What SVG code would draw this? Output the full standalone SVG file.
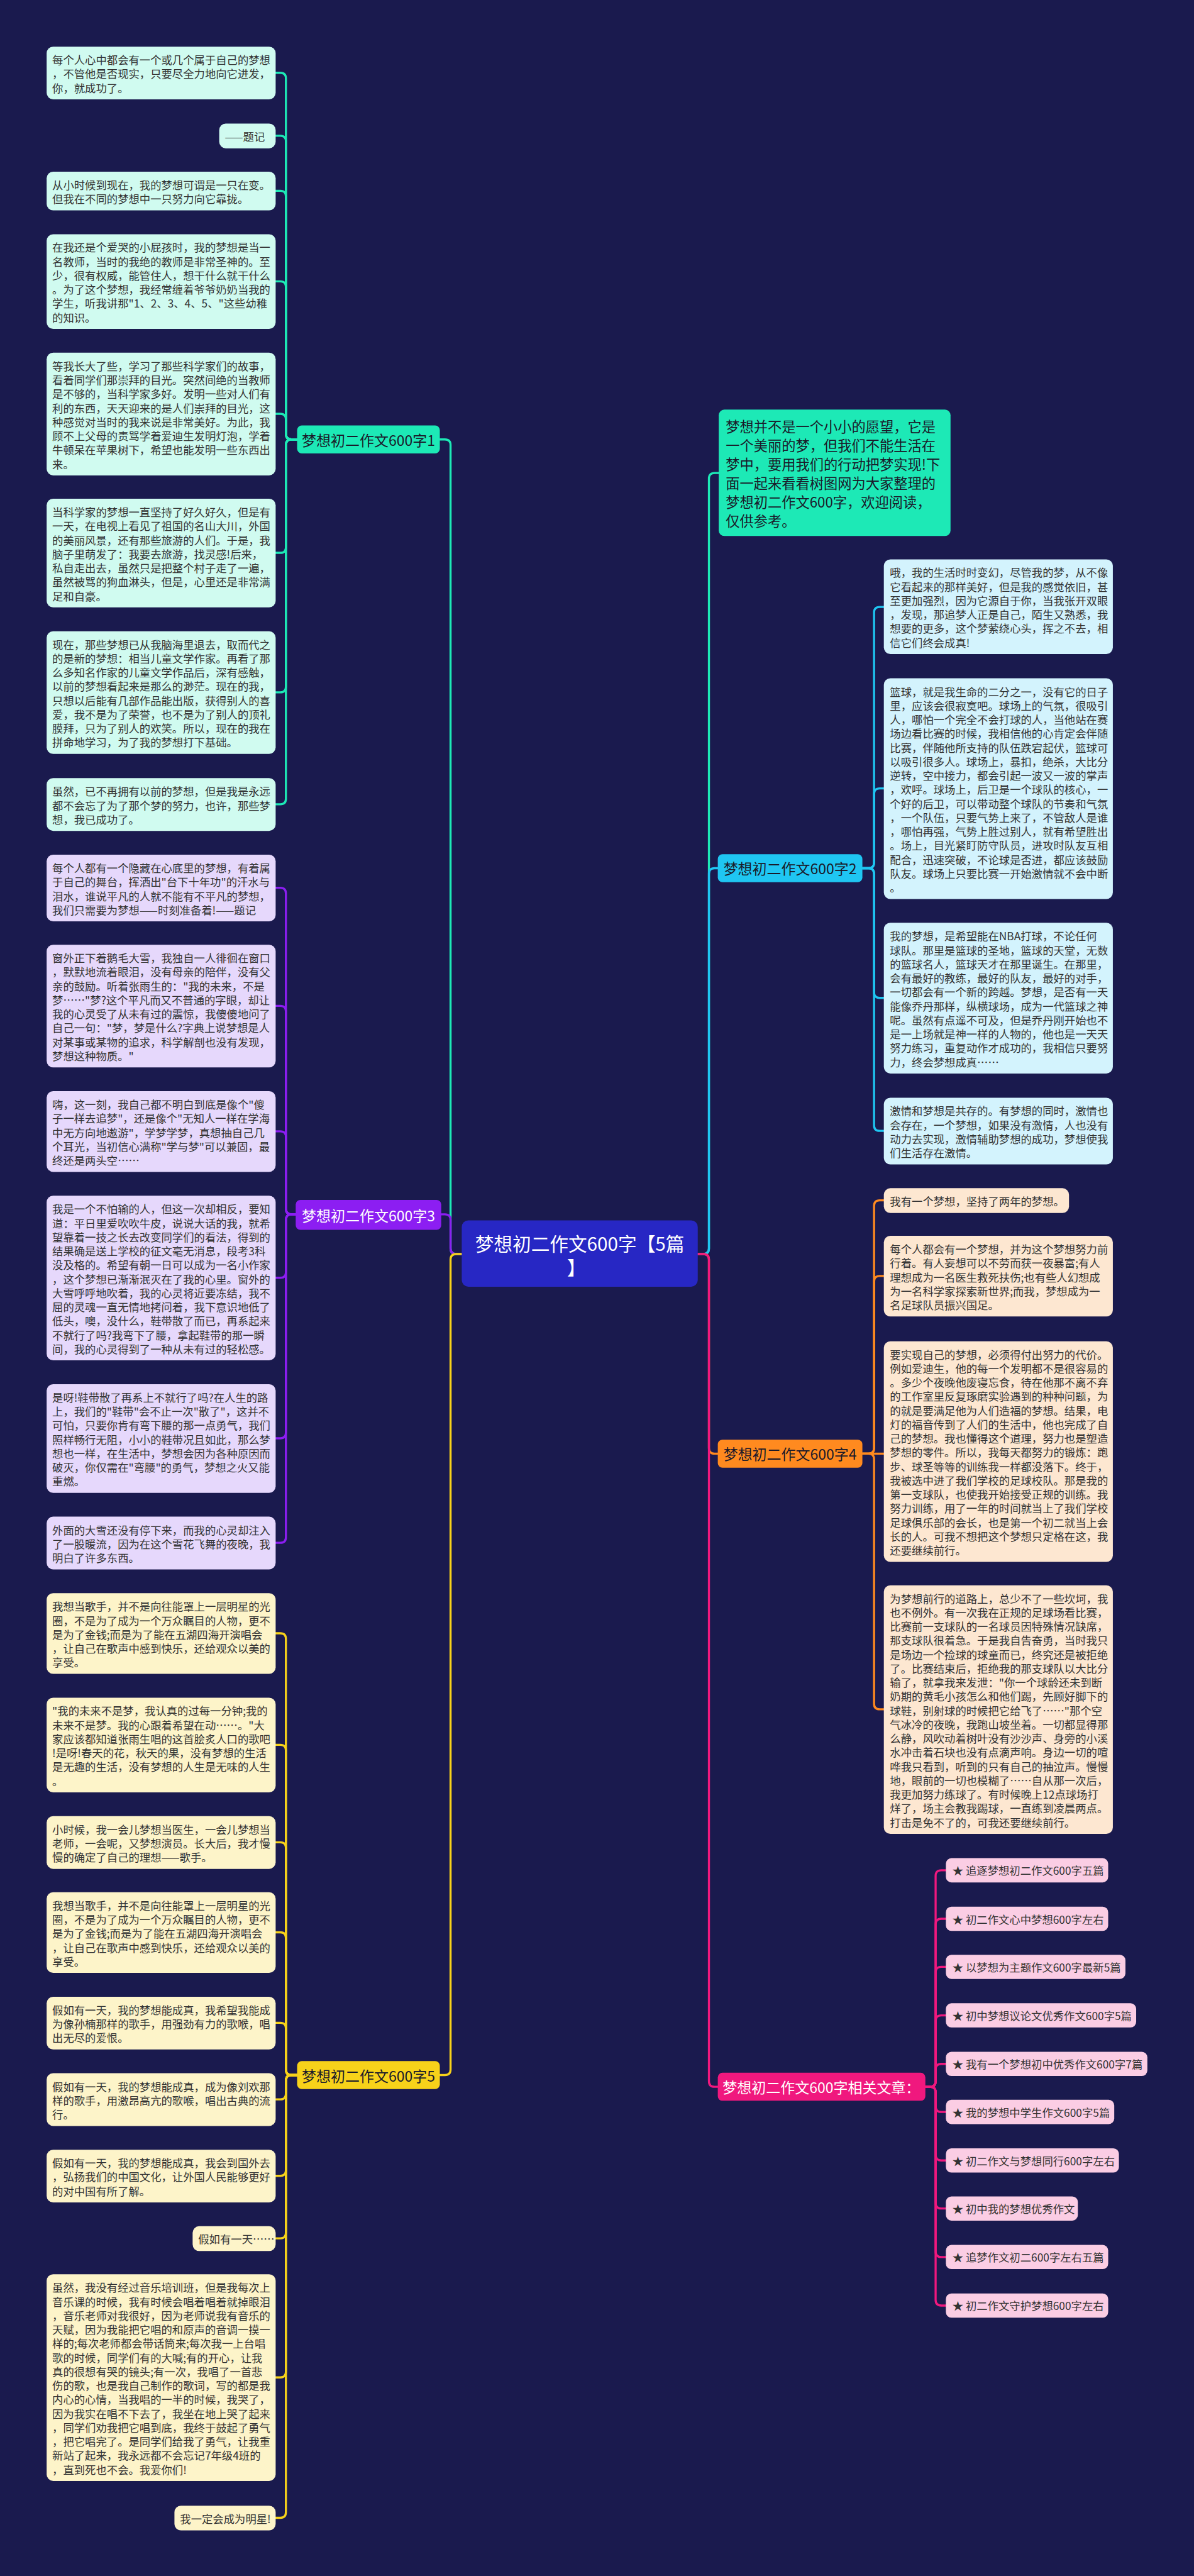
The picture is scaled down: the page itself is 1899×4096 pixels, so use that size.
<svg xmlns="http://www.w3.org/2000/svg" width="1899" height="4096" viewBox="0 0 1899 4096">
<style>
.t{font-family:"Noto Sans CJK SC","Noto Sans",sans-serif;font-size:23.4px;fill:#333;dominant-baseline:central}
.bt{font-family:"Noto Sans CJK SC","Noto Sans",sans-serif;font-size:31px;dominant-baseline:central;text-anchor:middle}
.ct{font-family:"Noto Sans CJK SC","Noto Sans",sans-serif;font-size:40px;fill:#fff;dominant-baseline:central;text-anchor:middle}
.it{font-family:"Noto Sans CJK SC","Noto Sans",sans-serif;font-size:30px;fill:#1a1a2a;dominant-baseline:central}
.c1{fill:#d0fbf0}.c3{fill:#e6d8fc}.c5{fill:#fdf4c9}.c2{fill:#d3f3fd}.c4{fill:#fde7d1}.c6{fill:#fbcde4}
.l{fill:none;stroke-width:4.5;stroke-linecap:round}
.k1{stroke:#1de9b6}.k3{stroke:#8c1ef2}.k5{stroke:#f7d21a}.k2{stroke:#1fc6f2}.k4{stroke:#ff8a1f}.k6{stroke:#f0187e}
</style>
<rect x="0" y="0" width="1899" height="4096" fill="#1a1a4e"/>
<g transform="scale(0.7418)">
<g id="connectors">
<!-- center to branches -->
<path class="l k1" d="M990 2688H978Q966 2688 966 2676V954Q966 942 954 942H943"/>
<path class="l k3" d="M990 2688H978Q966 2688 966 2676V2615Q966 2603 954 2603H946"/>
<path class="l k5" d="M990 2688H978Q966 2688 966 2700V4436Q966 4448 954 4448H943"/>
<path class="l k1" d="M1496 2688H1508Q1520 2688 1520 2676V1026Q1520 1014 1532 1014H1541"/>
<path class="l k2" d="M1496 2688H1508Q1520 2688 1520 2676V1873Q1520 1861 1532 1861H1539"/>
<path class="l k4" d="M1496 2688H1508Q1520 2688 1520 2700V3104Q1520 3116 1532 3116H1539"/>
<path class="l k6" d="M1496 2688H1508Q1520 2688 1520 2700V4461Q1520 4473 1532 4473H1539"/>
<!-- branch 1 children -->
<path class="l k1" d="M637 942H625Q613 942 613 930V168Q613 156 601 156H591"/>
<path class="l k1" d="M637 942H625Q613 942 613 930V303Q613 291 601 291H591"/>
<path class="l k1" d="M637 942H625Q613 942 613 930V421Q613 409 601 409H591"/>
<path class="l k1" d="M637 942H625Q613 942 613 930V615Q613 603 601 603H591"/>
<path class="l k1" d="M637 942H625Q613 942 613 930V899Q613 887 601 887H591"/>
<path class="l k1" d="M637 942H625Q613 942 613 954V1173Q613 1185 601 1185H591"/>
<path class="l k1" d="M637 942H625Q613 942 613 954V1472Q613 1484 601 1484H591"/>
<path class="l k1" d="M637 942H625Q613 942 613 954V1712Q613 1724 601 1724H591"/>
<!-- branch 3 children -->
<path class="l k3" d="M634 2603H625Q613 2603 613 2591V1915Q613 1903 601 1903H591"/>
<path class="l k3" d="M634 2603H625Q613 2603 613 2591V2168Q613 2156 601 2156H591"/>
<path class="l k3" d="M634 2603H625Q613 2603 613 2591V2437Q613 2425 601 2425H591"/>
<path class="l k3" d="M634 2603H625Q613 2603 613 2615V2727Q613 2739 601 2739H591"/>
<path class="l k3" d="M634 2603H625Q613 2603 613 2615V3071Q613 3083 601 3083H591"/>
<path class="l k3" d="M634 2603H625Q613 2603 613 2615V3295Q613 3307 601 3307H591"/>
<!-- branch 5 children -->
<path class="l k5" d="M637 4448H625Q613 4448 613 4436V3513Q613 3501 601 3501H591"/>
<path class="l k5" d="M637 4448H625Q613 4448 613 4436V3752Q613 3740 601 3740H591"/>
<path class="l k5" d="M637 4448H625Q613 4448 613 4436V3961Q613 3949 601 3949H591"/>
<path class="l k5" d="M637 4448H625Q613 4448 613 4436V4154Q613 4142 601 4142H591"/>
<path class="l k5" d="M637 4448H625Q613 4448 613 4436V4348Q613 4336 601 4336H591"/>
<path class="l k5" d="M637 4448H625Q613 4448 613 4460V4488Q613 4500 601 4500H591"/>
<path class="l k5" d="M637 4448H625Q613 4448 613 4460V4652Q613 4664 601 4664H591"/>
<path class="l k5" d="M637 4448H625Q613 4448 613 4460V4786Q613 4798 601 4798H591"/>
<path class="l k5" d="M637 4448H625Q613 4448 613 4460V5084Q613 5096 601 5096H591"/>
<path class="l k5" d="M637 4448H625Q613 4448 613 4460V5385Q613 5397 601 5397H591"/>
<!-- branch 2 children -->
<path class="l k2" d="M1849 1861H1862Q1874 1861 1874 1849V1313Q1874 1301 1886 1301H1895"/>
<path class="l k2" d="M1849 1861H1862Q1874 1861 1874 1849V1702Q1874 1690 1886 1690H1895"/>
<path class="l k2" d="M1849 1861H1862Q1874 1861 1874 1873V2127Q1874 2139 1886 2139H1895"/>
<path class="l k2" d="M1849 1861H1862Q1874 1861 1874 1873V2412Q1874 2424 1886 2424H1895"/>
<!-- branch 4 children -->
<path class="l k4" d="M1849 3116H1862Q1874 3116 1874 3104V2585Q1874 2573 1886 2573H1895"/>
<path class="l k4" d="M1849 3116H1862Q1874 3116 1874 3104V2747Q1874 2735 1886 2735H1895"/>
<path class="l k4" d="M1849 3116H1895"/>
<path class="l k4" d="M1849 3116H1862Q1874 3116 1874 3128V3652Q1874 3664 1886 3664H1895"/>
<!-- related children -->
<path class="l k6" d="M1984 4473H1994Q2006 4473 2006 4461V4021Q2006 4009 2018 4009H2028"/>
<path class="l k6" d="M1984 4473H1994Q2006 4473 2006 4461V4125Q2006 4113 2018 4113H2028"/>
<path class="l k6" d="M1984 4473H1994Q2006 4473 2006 4461V4228Q2006 4216 2018 4216H2028"/>
<path class="l k6" d="M1984 4473H1994Q2006 4473 2006 4461V4332Q2006 4320 2018 4320H2028"/>
<path class="l k6" d="M1984 4473H1994Q2006 4473 2006 4461V4436Q2006 4424 2018 4424H2028"/>
<path class="l k6" d="M1984 4473H1994Q2006 4473 2006 4485V4515Q2006 4527 2018 4527H2028"/>
<path class="l k6" d="M1984 4473H1994Q2006 4473 2006 4485V4619Q2006 4631 2018 4631H2028"/>
<path class="l k6" d="M1984 4473H1994Q2006 4473 2006 4485V4722Q2006 4734 2018 4734H2028"/>
<path class="l k6" d="M1984 4473H1994Q2006 4473 2006 4485V4826Q2006 4838 2018 4838H2028"/>
<path class="l k6" d="M1984 4473H1994Q2006 4473 2006 4485V4930Q2006 4942 2018 4942H2028"/>
</g>

<g id="center"><rect x="990" y="2616" width="506" height="142" rx="14" fill="#2727c4"/>
<text class="ct" x="1243" y="2664">梦想初二作文600字【5篇</text><text class="ct" x="1236" y="2716">】</text></g>

<g id="intro"><rect x="1541" y="878" width="497" height="271" rx="12" fill="#1de9b6"/>
<text class="it"><tspan x="1556" y="912">梦想并不是一个小小的愿望，它是</tspan><tspan x="1556" y="952.6">一个美丽的梦，但我们不能生活在</tspan><tspan x="1556" y="993.2">梦中，要用我们的行动把梦实现!下</tspan><tspan x="1556" y="1033.8">面一起来看看树图网为大家整理的</tspan><tspan x="1556" y="1074.4">梦想初二作文600字，欢迎阅读，</tspan><tspan x="1556" y="1115">仅供参考。</tspan></text></g>

<g id="branch1"><rect x="637" y="912" width="306" height="60" rx="10" fill="#1de9b6"/><text class="bt" x="790" y="942" fill="#1a1a2a">梦想初二作文600字1</text></g>
<g id="branch3"><rect x="634" y="2572" width="312" height="64" rx="10" fill="#8c1ef2"/><text class="bt" x="790" y="2604" fill="#fff">梦想初二作文600字3</text></g>
<g id="branch5"><rect x="637" y="4418" width="306" height="60" rx="10" fill="#f7d21a"/><text class="bt" x="790" y="4448" fill="#1a1a2a">梦想初二作文600字5</text></g>
<g id="branch2"><rect x="1539" y="1831" width="310" height="60" rx="10" fill="#1fc6f2"/><text class="bt" x="1694" y="1861" fill="#1a1a2a">梦想初二作文600字2</text></g>
<g id="branch4"><rect x="1539" y="3086" width="310" height="60" rx="10" fill="#ff8a1f"/><text class="bt" x="1694" y="3116" fill="#1a1a2a">梦想初二作文600字4</text></g>
<g id="branch6"><rect x="1539" y="4443" width="445" height="60" rx="10" fill="#f0187e"/><text class="bt" x="1761" y="4473" fill="#fff">梦想初二作文600字相关文章：</text></g>

<!-- branch 1 children -->
<g id="a1"><rect class="c1" x="100" y="100" width="491" height="113" rx="14"/><text class="t"><tspan x="112" y="127">每个人心中都会有一个或几个属于自己的梦想</tspan><tspan x="112" dy="30">，不管他是否现实，只要尽全力地向它进发，</tspan><tspan x="112" dy="30">你，就成功了。</tspan></text></g>
<g id="a2"><rect class="c1" x="470" y="265" width="121" height="53" rx="14"/><text class="t" x="482" y="292">——题记</text></g>
<g id="a3"><rect class="c1" x="100" y="368" width="491" height="83" rx="14"/><text class="t"><tspan x="112" y="395">从小时候到现在，我的梦想可谓是一只在变。</tspan><tspan x="112" dy="30">但我在不同的梦想中一只努力向它靠拢。</tspan></text></g>
<g id="a4"><rect class="c1" x="100" y="502" width="491" height="203" rx="14"/><text class="t"><tspan x="112" y="529">在我还是个爱哭的小屁孩时，我的梦想是当一</tspan><tspan x="112" dy="30">名教师，当时的我绝的教师是非常圣神的。至</tspan><tspan x="112" dy="30">少，很有权威，能管住人，想干什么就干什么</tspan><tspan x="112" dy="30">。为了这个梦想，我经常缠着爷爷奶奶当我的</tspan><tspan x="112" dy="30">学生，听我讲那"1、2、3、4、5、"这些幼稚</tspan><tspan x="112" dy="30">的知识。</tspan></text></g>
<g id="a5"><rect class="c1" x="100" y="756" width="491" height="263" rx="14"/><text class="t"><tspan x="112" y="783">等我长大了些，学习了那些科学家们的故事，</tspan><tspan x="112" dy="30">看着同学们那崇拜的目光。突然间绝的当教师</tspan><tspan x="112" dy="30">是不够的，当科学家多好。发明一些对人们有</tspan><tspan x="112" dy="30">利的东西，天天迎来的是人们崇拜的目光，这</tspan><tspan x="112" dy="30">种感觉对当时的我来说是非常美好。为此，我</tspan><tspan x="112" dy="30">顾不上父母的责骂学着爱迪生发明灯泡，学着</tspan><tspan x="112" dy="30">牛顿呆在苹果树下，希望也能发明一些东西出</tspan><tspan x="112" dy="30">来。</tspan></text></g>
<g id="a6"><rect class="c1" x="100" y="1069" width="491" height="233" rx="14"/><text class="t"><tspan x="112" y="1096">当科学家的梦想一直坚持了好久好久，但是有</tspan><tspan x="112" dy="30">一天，在电视上看见了祖国的名山大川，外国</tspan><tspan x="112" dy="30">的美丽风景，还有那些旅游的人们。于是，我</tspan><tspan x="112" dy="30">脑子里萌发了：我要去旅游，找灵感!后来，</tspan><tspan x="112" dy="30">私自走出去，虽然只是把整个村子走了一遍，</tspan><tspan x="112" dy="30">虽然被骂的狗血淋头，但是，心里还是非常满</tspan><tspan x="112" dy="30">足和自豪。</tspan></text></g>
<g id="a7"><rect class="c1" x="100" y="1353" width="491" height="263" rx="14"/><text class="t"><tspan x="112" y="1380">现在，那些梦想已从我脑海里退去，取而代之</tspan><tspan x="112" dy="30">的是新的梦想：相当儿童文学作家。再看了那</tspan><tspan x="112" dy="30">么多知名作家的儿童文学作品后，深有感触，</tspan><tspan x="112" dy="30">以前的梦想看起来是那么的渺茫。现在的我，</tspan><tspan x="112" dy="30">只想以后能有几部作品能出版，获得别人的喜</tspan><tspan x="112" dy="30">爱，我不是为了荣誉，也不是为了别人的顶礼</tspan><tspan x="112" dy="30">膜拜，只为了别人的欢笑。所以，现在的我在</tspan><tspan x="112" dy="30">拼命地学习，为了我的梦想打下基础。</tspan></text></g>
<g id="a8"><rect class="c1" x="100" y="1668" width="491" height="113" rx="14"/><text class="t"><tspan x="112" y="1695">虽然，已不再拥有以前的梦想，但是我是永远</tspan><tspan x="112" dy="30">都不会忘了为了那个梦的努力，也许，那些梦</tspan><tspan x="112" dy="30">想，我已成功了。</tspan></text></g>

<!-- branch 3 children -->
<g id="c1"><rect class="c3" x="100" y="1832" width="491" height="143" rx="14"/><text class="t"><tspan x="112" y="1859">每个人都有一个隐藏在心底里的梦想，有着属</tspan><tspan x="112" dy="30">于自己的舞台，挥洒出"台下十年功"的汗水与</tspan><tspan x="112" dy="30">泪水，谁说平凡的人就不能有不平凡的梦想，</tspan><tspan x="112" dy="30">我们只需要为梦想——时刻准备着!——题记</tspan></text></g>
<g id="c2"><rect class="c3" x="100" y="2025" width="491" height="263" rx="14"/><text class="t"><tspan x="112" y="2052">窗外正下着鹅毛大雪，我独自一人徘徊在窗口</tspan><tspan x="112" dy="30">，默默地流着眼泪，没有母亲的陪伴，没有父</tspan><tspan x="112" dy="30">亲的鼓励。听着张雨生的："我的未来，不是</tspan><tspan x="112" dy="30">梦……"梦?这个平凡而又不普通的字眼，却让</tspan><tspan x="112" dy="30">我的心灵受了从未有过的震惊，我傻傻地问了</tspan><tspan x="112" dy="30">自己一句："梦，梦是什么?字典上说梦想是人</tspan><tspan x="112" dy="30">对某事或某物的追求，科学解剖也没有发现，</tspan><tspan x="112" dy="30">梦想这种物质。"</tspan></text></g>
<g id="c3"><rect class="c3" x="100" y="2339" width="491" height="173" rx="14"/><text class="t"><tspan x="112" y="2366">嗨，这一刻，我自己都不明白到底是像个"傻</tspan><tspan x="112" dy="30">子一样去追梦"，还是像个"无知人一样在学海</tspan><tspan x="112" dy="30">中无方向地遨游"，学梦学梦，真想抽自己几</tspan><tspan x="112" dy="30">个耳光，当初信心满称"学与梦"可以兼固，最</tspan><tspan x="112" dy="30">终还是两头空……</tspan></text></g>
<g id="c4"><rect class="c3" x="100" y="2563" width="491" height="353" rx="14"/><text class="t"><tspan x="112" y="2590">我是一个不怕输的人，但这一次却相反，要知</tspan><tspan x="112" dy="30">道：平日里爱吹吹牛皮，说说大话的我，就希</tspan><tspan x="112" dy="30">望靠着一技之长去改变同学们的看法，得到的</tspan><tspan x="112" dy="30">结果确是送上学校的征文毫无消息，段考3科</tspan><tspan x="112" dy="30">没及格的。希望有朝一日可以成为一名小作家</tspan><tspan x="112" dy="30">，这个梦想已渐渐泯灭在了我的心里。窗外的</tspan><tspan x="112" dy="30">大雪呼呼地吹着，我的心灵将近要冻结，我不</tspan><tspan x="112" dy="30">屈的灵魂一直无情地拷问着，我下意识地低了</tspan><tspan x="112" dy="30">低头，噢，没什么，鞋带散了而已，再系起来</tspan><tspan x="112" dy="30">不就行了吗?我弯下了腰，拿起鞋带的那一瞬</tspan><tspan x="112" dy="30">间，我的心灵得到了一种从未有过的轻松感。</tspan></text></g>
<g id="c5"><rect class="c3" x="100" y="2967" width="491" height="233" rx="14"/><text class="t"><tspan x="112" y="2994">是呀!鞋带散了再系上不就行了吗?在人生的路</tspan><tspan x="112" dy="30">上，我们的"鞋带"会不止一次"散了"，这并不</tspan><tspan x="112" dy="30">可怕，只要你肯有弯下腰的那一点勇气，我们</tspan><tspan x="112" dy="30">照样畅行无阻，小小的鞋带况且如此，那么梦</tspan><tspan x="112" dy="30">想也一样，在生活中，梦想会因为各种原因而</tspan><tspan x="112" dy="30">破灭，你仅需在"弯腰"的勇气，梦想之火又能</tspan><tspan x="112" dy="30">重燃。</tspan></text></g>
<g id="c6"><rect class="c3" x="100" y="3251" width="491" height="113" rx="14"/><text class="t"><tspan x="112" y="3278">外面的大雪还没有停下来，而我的心灵却注入</tspan><tspan x="112" dy="30">了一股暖流，因为在这个雪花飞舞的夜晚，我</tspan><tspan x="112" dy="30">明白了许多东西。</tspan></text></g>

<!-- branch 5 children -->
<g id="e1"><rect class="c5" x="100" y="3415" width="491" height="173" rx="14"/><text class="t"><tspan x="112" y="3442">我想当歌手，并不是向往能罩上一层明星的光</tspan><tspan x="112" dy="30">圈，不是为了成为一个万众瞩目的人物，更不</tspan><tspan x="112" dy="30">是为了金钱;而是为了能在五湖四海开演唱会</tspan><tspan x="112" dy="30">，让自己在歌声中感到快乐，还给观众以美的</tspan><tspan x="112" dy="30">享受。</tspan></text></g>
<g id="e2"><rect class="c5" x="100" y="3639" width="491" height="203" rx="14"/><text class="t"><tspan x="112" y="3666">"我的未来不是梦，我认真的过每一分钟;我的</tspan><tspan x="112" dy="30">未来不是梦。我的心跟着希望在动……。"大</tspan><tspan x="112" dy="30">家应该都知道张雨生唱的这首脍炙人口的歌吧</tspan><tspan x="112" dy="30">!是呀!春天的花，秋天的果，没有梦想的生活</tspan><tspan x="112" dy="30">是无趣的生活，没有梦想的人生是无味的人生</tspan><tspan x="112" dy="30">。</tspan></text></g>
<g id="e3"><rect class="c5" x="100" y="3893" width="491" height="113" rx="14"/><text class="t"><tspan x="112" y="3920">小时候，我一会儿梦想当医生，一会儿梦想当</tspan><tspan x="112" dy="30">老师，一会呢，又梦想演员。长大后，我才慢</tspan><tspan x="112" dy="30">慢的确定了自己的理想——歌手。</tspan></text></g>
<g id="e4"><rect class="c5" x="100" y="4056" width="491" height="173" rx="14"/><text class="t"><tspan x="112" y="4083">我想当歌手，并不是向往能罩上一层明星的光</tspan><tspan x="112" dy="30">圈，不是为了成为一个万众瞩目的人物，更不</tspan><tspan x="112" dy="30">是为了金钱;而是为了能在五湖四海开演唱会</tspan><tspan x="112" dy="30">，让自己在歌声中感到快乐，还给观众以美的</tspan><tspan x="112" dy="30">享受。</tspan></text></g>
<g id="e5"><rect class="c5" x="100" y="4280" width="491" height="113" rx="14"/><text class="t"><tspan x="112" y="4307">假如有一天，我的梦想能成真，我希望我能成</tspan><tspan x="112" dy="30">为像孙楠那样的歌手，用强劲有力的歌喉，唱</tspan><tspan x="112" dy="30">出无尽的爱恨。</tspan></text></g>
<g id="e6"><rect class="c5" x="100" y="4444" width="491" height="113" rx="14"/><text class="t"><tspan x="112" y="4471">假如有一天，我的梦想能成真，成为像刘欢那</tspan><tspan x="112" dy="30">样的歌手，用激昂高亢的歌喉，唱出古典的流</tspan><tspan x="112" dy="30">行。</tspan></text></g>
<g id="e7"><rect class="c5" x="100" y="4608" width="491" height="113" rx="14"/><text class="t"><tspan x="112" y="4635">假如有一天，我的梦想能成真，我会到国外去</tspan><tspan x="112" dy="30">，弘扬我们的中国文化，让外国人民能够更好</tspan><tspan x="112" dy="30">的对中国有所了解。</tspan></text></g>
<g id="e8"><rect class="c5" x="413" y="4772" width="178" height="53" rx="14"/><text class="t" x="425" y="4799">假如有一天……</text></g>
<g id="e9"><rect class="c5" x="100" y="4875" width="491" height="443" rx="14"/><text class="t"><tspan x="112" y="4902">虽然，我没有经过音乐培训班，但是我每次上</tspan><tspan x="112" dy="30">音乐课的时候，我有时候会唱着唱着就掉眼泪</tspan><tspan x="112" dy="30">，音乐老师对我很好，因为老师说我有音乐的</tspan><tspan x="112" dy="30">天赋，因为我能把它唱的和原声的音调一摸一</tspan><tspan x="112" dy="30">样的;每次老师都会带话筒来;每次我一上台唱</tspan><tspan x="112" dy="30">歌的时候，同学们有的大喊;有的开心，让我</tspan><tspan x="112" dy="30">真的很想有哭的镜头;有一次，我唱了一首悲</tspan><tspan x="112" dy="30">伤的歌，也是我自己制作的歌词，写的都是我</tspan><tspan x="112" dy="30">内心的心情，当我唱的一半的时候，我哭了，</tspan><tspan x="112" dy="30">因为我实在唱不下去了，我坐在地上哭了起来</tspan><tspan x="112" dy="30">，同学们劝我把它唱到底，我终于鼓起了勇气</tspan><tspan x="112" dy="30">，把它唱完了。是同学们给我了勇气，让我重</tspan><tspan x="112" dy="30">新站了起来，我永远都不会忘记7年级4班的</tspan><tspan x="112" dy="30">，直到死也不会。我爱你们!</tspan></text></g>
<g id="e10"><rect class="c5" x="374" y="5371" width="217" height="53" rx="14"/><text class="t" x="386" y="5398">我一定会成为明星!</text></g>

<!-- branch 2 children -->
<g id="b1"><rect class="c2" x="1895" y="1199" width="491" height="203" rx="14"/><text class="t"><tspan x="1908" y="1226">哦，我的生活时时变幻，尽管我的梦，从不像</tspan><tspan x="1908" dy="30">它看起来的那样美好，但是我的感觉依旧，甚</tspan><tspan x="1908" dy="30">至更加强烈，因为它源自于你，当我张开双眼</tspan><tspan x="1908" dy="30">，发现，那追梦人正是自己，陌生又熟悉，我</tspan><tspan x="1908" dy="30">想要的更多，这个梦萦绕心头，挥之不去，相</tspan><tspan x="1908" dy="30">信它们终会成真!</tspan></text></g>
<g id="b2"><rect class="c2" x="1895" y="1454" width="491" height="473" rx="14"/><text class="t"><tspan x="1908" y="1481">篮球，就是我生命的二分之一，没有它的日子</tspan><tspan x="1908" dy="30">里，应该会很寂寞吧。球场上的气氛，很吸引</tspan><tspan x="1908" dy="30">人，哪怕一个完全不会打球的人，当他站在赛</tspan><tspan x="1908" dy="30">场边看比赛的时候，我相信他的心肯定会伴随</tspan><tspan x="1908" dy="30">比赛，伴随他所支持的队伍跌宕起伏，篮球可</tspan><tspan x="1908" dy="30">以吸引很多人。球场上，暴扣，绝杀，大比分</tspan><tspan x="1908" dy="30">逆转，空中接力，都会引起一波又一波的掌声</tspan><tspan x="1908" dy="30">，欢呼。球场上，后卫是一个球队的核心，一</tspan><tspan x="1908" dy="30">个好的后卫，可以带动整个球队的节奏和气氛</tspan><tspan x="1908" dy="30">，一个队伍，只要气势上来了，不管敌人是谁</tspan><tspan x="1908" dy="30">，哪怕再强，气势上胜过别人，就有希望胜出</tspan><tspan x="1908" dy="30">。场上，目光紧盯防守队员，进攻时队友互相</tspan><tspan x="1908" dy="30">配合，迅速突破，不论球是否进，都应该鼓励</tspan><tspan x="1908" dy="30">队友。球场上只要比赛一开始激情就不会中断</tspan><tspan x="1908" dy="30">。</tspan></text></g>
<g id="b3"><rect class="c2" x="1895" y="1978" width="491" height="323" rx="14"/><text class="t"><tspan x="1908" y="2005">我的梦想，是希望能在NBA打球，不论任何</tspan><tspan x="1908" dy="30">球队。那里是篮球的圣地，篮球的天堂，无数</tspan><tspan x="1908" dy="30">的篮球名人，篮球天才在那里诞生。在那里，</tspan><tspan x="1908" dy="30">会有最好的教练，最好的队友，最好的对手，</tspan><tspan x="1908" dy="30">一切都会有一个新的跨越。梦想，是否有一天</tspan><tspan x="1908" dy="30">能像乔丹那样，纵横球场，成为一代篮球之神</tspan><tspan x="1908" dy="30">呢。虽然有点遥不可及，但是乔丹刚开始也不</tspan><tspan x="1908" dy="30">是一上场就是神一样的人物的，他也是一天天</tspan><tspan x="1908" dy="30">努力练习，重复动作才成功的，我相信只要努</tspan><tspan x="1908" dy="30">力，终会梦想成真……</tspan></text></g>
<g id="b4"><rect class="c2" x="1895" y="2353" width="491" height="143" rx="14"/><text class="t"><tspan x="1908" y="2380">激情和梦想是共存的。有梦想的同时，激情也</tspan><tspan x="1908" dy="30">会存在，一个梦想，如果没有激情，人也没有</tspan><tspan x="1908" dy="30">动力去实现，激情辅助梦想的成功，梦想使我</tspan><tspan x="1908" dy="30">们生活存在激情。</tspan></text></g>

<!-- branch 4 children -->
<g id="d1"><rect class="c4" x="1895" y="2547" width="397" height="53" rx="14"/><text class="t" x="1908" y="2574">我有一个梦想，坚持了两年的梦想。</text></g>
<g id="d2"><rect class="c4" x="1895" y="2649" width="491" height="173" rx="14"/><text class="t"><tspan x="1908" y="2676">每个人都会有一个梦想，并为这个梦想努力前</tspan><tspan x="1908" dy="30">行着。有人妄想可以不劳而获一夜暴富;有人</tspan><tspan x="1908" dy="30">理想成为一名医生救死扶伤;也有些人幻想成</tspan><tspan x="1908" dy="30">为一名科学家探索新世界;而我，梦想成为一</tspan><tspan x="1908" dy="30">名足球队员振兴国足。</tspan></text></g>
<g id="d3"><rect class="c4" x="1895" y="2875" width="491" height="473" rx="14"/><text class="t"><tspan x="1908" y="2902">要实现自己的梦想，必须得付出努力的代价。</tspan><tspan x="1908" dy="30">例如爱迪生，他的每一个发明都不是很容易的</tspan><tspan x="1908" dy="30">。多少个夜晚他废寝忘食，待在他那不离不弃</tspan><tspan x="1908" dy="30">的工作室里反复琢磨实验遇到的种种问题，为</tspan><tspan x="1908" dy="30">的就是要满足他为人们造福的梦想。结果，电</tspan><tspan x="1908" dy="30">灯的福音传到了人们的生活中，他也完成了自</tspan><tspan x="1908" dy="30">己的梦想。我也懂得这个道理，努力也是塑造</tspan><tspan x="1908" dy="30">梦想的零件。所以，我每天都努力的锻炼：跑</tspan><tspan x="1908" dy="30">步、球圣等等的训练我一样都没落下。终于，</tspan><tspan x="1908" dy="30">我被选中进了我们学校的足球校队。那是我的</tspan><tspan x="1908" dy="30">第一支球队，也使我开始接受正规的训练。我</tspan><tspan x="1908" dy="30">努力训练，用了一年的时间就当上了我们学校</tspan><tspan x="1908" dy="30">足球俱乐部的会长，也是第一个初二就当上会</tspan><tspan x="1908" dy="30">长的人。可我不想把这个梦想只定格在这，我</tspan><tspan x="1908" dy="30">还要继续前行。</tspan></text></g>
<g id="d4"><rect class="c4" x="1895" y="3398" width="491" height="533" rx="14"/><text class="t"><tspan x="1908" y="3425">为梦想前行的道路上，总少不了一些坎坷，我</tspan><tspan x="1908" dy="30">也不例外。有一次我在正规的足球场看比赛，</tspan><tspan x="1908" dy="30">比赛前一支球队的一名球员因特殊情况缺席，</tspan><tspan x="1908" dy="30">那支球队很着急。于是我自告奋勇，当时我只</tspan><tspan x="1908" dy="30">是场边一个捡球的球童而已，终究还是被拒绝</tspan><tspan x="1908" dy="30">了。比赛结束后，拒绝我的那支球队以大比分</tspan><tspan x="1908" dy="30">输了，就拿我来发泄："你一个球龄还未到断</tspan><tspan x="1908" dy="30">奶期的黄毛小孩怎么和他们踢，先顾好脚下的</tspan><tspan x="1908" dy="30">球鞋，别射球的时候把它给飞了……"那个空</tspan><tspan x="1908" dy="30">气冰冷的夜晚，我跑山坡坐着。一切都显得那</tspan><tspan x="1908" dy="30">么静，风吹动着树叶没有沙沙声、身旁的小溪</tspan><tspan x="1908" dy="30">水冲击着石块也没有点滴声响。身边一切的喧</tspan><tspan x="1908" dy="30">哗我只看到，听到的只有自己的抽泣声。慢慢</tspan><tspan x="1908" dy="30">地，眼前的一切也模糊了……自从那一次后，</tspan><tspan x="1908" dy="30">我更加努力练球了。有时候晚上12点球场打</tspan><tspan x="1908" dy="30">烊了，场主会教我踢球，一直练到凌晨两点。</tspan><tspan x="1908" dy="30">打击是免不了的，可我还要继续前行。</tspan></text></g>

<!-- related -->
<g id="r1"><rect class="c6" x="2028" y="3983" width="348" height="52" rx="12"/><text class="t" x="2042" y="4009">★ 追逐梦想初二作文600字五篇</text></g>
<g id="r2"><rect class="c6" x="2028" y="4087" width="348" height="52" rx="12"/><text class="t" x="2042" y="4113">★ 初二作文心中梦想600字左右</text></g>
<g id="r3"><rect class="c6" x="2028" y="4190" width="385" height="52" rx="12"/><text class="t" x="2042" y="4216">★ 以梦想为主题作文600字最新5篇</text></g>
<g id="r4"><rect class="c6" x="2028" y="4294" width="408" height="52" rx="12"/><text class="t" x="2042" y="4320">★ 初中梦想议论文优秀作文600字5篇</text></g>
<g id="r5"><rect class="c6" x="2028" y="4398" width="432" height="52" rx="12"/><text class="t" x="2042" y="4424">★ 我有一个梦想初中优秀作文600字7篇</text></g>
<g id="r6"><rect class="c6" x="2028" y="4501" width="361" height="52" rx="12"/><text class="t" x="2042" y="4527">★ 我的梦想中学生作文600字5篇</text></g>
<g id="r7"><rect class="c6" x="2028" y="4605" width="371" height="52" rx="12"/><text class="t" x="2042" y="4631">★ 初二作文与梦想同行600字左右</text></g>
<g id="r8"><rect class="c6" x="2028" y="4708" width="283" height="52" rx="12"/><text class="t" x="2042" y="4734">★ 初中我的梦想优秀作文</text></g>
<g id="r9"><rect class="c6" x="2028" y="4812" width="348" height="52" rx="12"/><text class="t" x="2042" y="4838">★ 追梦作文初二600字左右五篇</text></g>
<g id="r10"><rect class="c6" x="2028" y="4916" width="348" height="52" rx="12"/><text class="t" x="2042" y="4942">★ 初二作文守护梦想600字左右</text></g>
</g>
</svg>
